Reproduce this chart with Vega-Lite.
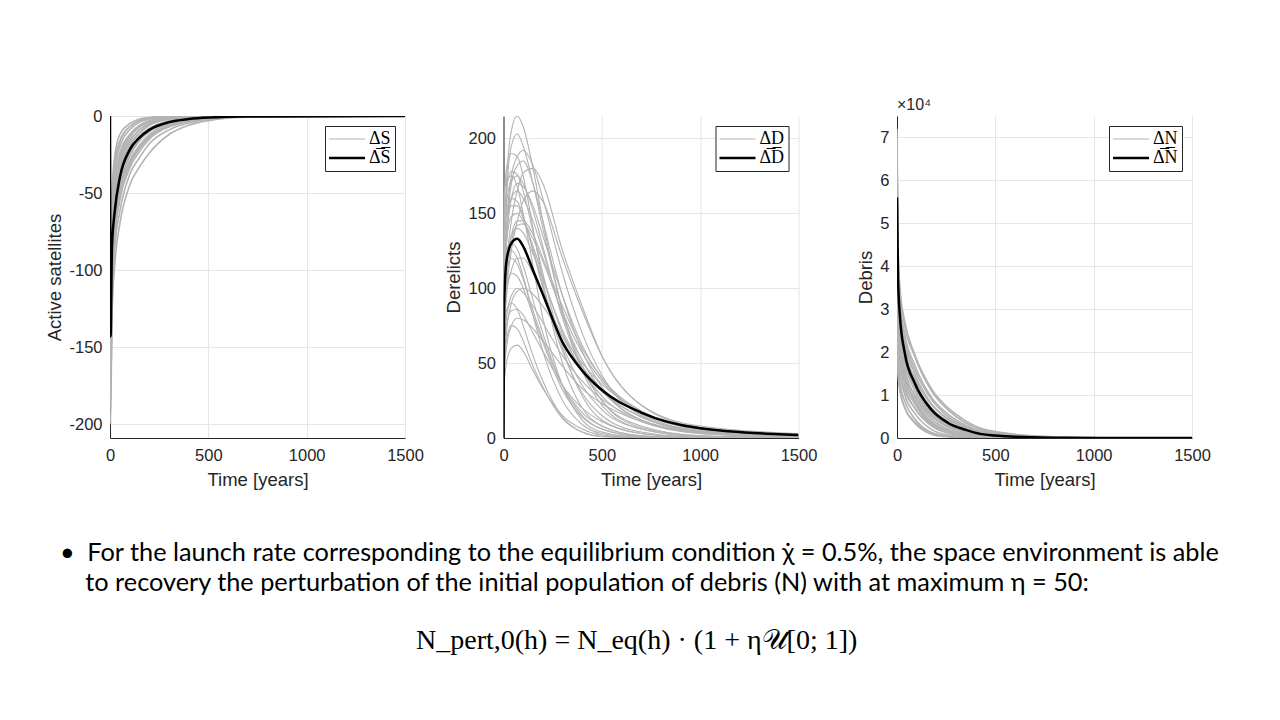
{
"$schema":"https://vega.github.io/schema/vega-lite/v6.json",
"background":"white",
"padding":{"left":45,"top":97,"right":5,"bottom":5},
"title":{"text":"N_pert,0(h) = N_eq(h) · (1 + η𝒰[0; 1])","orient":"bottom","anchor":"middle","font":"Liberation Serif","fontSize":28,"fontWeight":"normal","color":"#000000","offset":31,"dx":4},
"vconcat":[
{"hconcat":[
{"width":295,"height":322,
 "layer":[
  {"data":{"name":"s"},"mark":{"type":"line","strokeWidth":1.6,"interpolate":"monotone","clip":true},
   "encoding":{
    "x":{"field":"t","type":"quantitative","scale":{"domain":[0,1500],"nice":false},"axis":{"values":[0,500,1000,1500],"format":"d","title":"Time [years]"}},
    "y":{"field":"v","type":"quantitative","scale":{"domain":[-209,0],"nice":false},"axis":{"values":[-200,-150,-100,-50,0],"labelExpr":"'' + datum.value","title":"Active satellites"}},
    "detail":{"field":"r","type":"nominal"},
    "color":{"datum":"a","type":"nominal","scale":{"domain":["a","m"],"range":["#b3b3b3","#000000"]},"legend":{"title":null,"labelExpr":"datum.value == 'a' ? '\u0394S' : '\u0394\u0305S\u0305'","encode":{"symbols":{"update":{"strokeWidth":{"signal":"datum.value == 'm' ? 2.5 : 1"}}}}}}}},
  {"data":{"name":"sm"},"mark":{"type":"line","strokeWidth":2.5,"interpolate":"monotone","clip":true},
   "encoding":{"x":{"field":"t","type":"quantitative"},"y":{"field":"v","type":"quantitative"},"color":{"datum":"m","type":"nominal"}}}
 ]},
{"width":295,"height":322,
 "layer":[
  {"data":{"name":"d"},"mark":{"type":"line","strokeWidth":1.1,"interpolate":"monotone","clip":true},
   "encoding":{
    "x":{"field":"t","type":"quantitative","scale":{"domain":[0,1500],"nice":false},"axis":{"values":[0,500,1000,1500],"format":"d","title":"Time [years]"}},
    "y":{"field":"v","type":"quantitative","scale":{"domain":[0,215],"nice":false},"axis":{"values":[0,50,100,150,200],"title":"Derelicts"}},
    "detail":{"field":"r","type":"nominal"},
    "color":{"datum":"a","type":"nominal","scale":{"domain":["a","m"],"range":["#b3b3b3","#000000"]},"legend":{"title":null,"labelExpr":"datum.value == 'a' ? '\u0394D' : '\u0394\u0305D\u0305'","encode":{"symbols":{"update":{"strokeWidth":{"signal":"datum.value == 'm' ? 2.5 : 1"}}}}}}}},
  {"data":{"name":"dm"},"mark":{"type":"line","strokeWidth":2.5,"interpolate":"monotone","clip":true},
   "encoding":{"x":{"field":"t","type":"quantitative"},"y":{"field":"v","type":"quantitative"},"color":{"datum":"m","type":"nominal"}}}
 ]},
{"width":295,"height":322,
 "title":{"text":"×10⁴","anchor":"start","frame":"group","fontSize":16,"fontWeight":"normal","font":"Liberation Sans","color":"#262626","offset":3},
 "layer":[
  {"data":{"name":"n"},"mark":{"type":"line","strokeWidth":1.6,"interpolate":"monotone","clip":true},
   "encoding":{
    "x":{"field":"t","type":"quantitative","scale":{"domain":[0,1500],"nice":false},"axis":{"values":[0,500,1000,1500],"format":"d","title":"Time [years]"}},
    "y":{"field":"v","type":"quantitative","scale":{"domain":[0,75000],"nice":false},"axis":{"values":[0,10000,20000,30000,40000,50000,60000,70000],"labelExpr":"datum.value / 10000","title":"Debris"}},
    "detail":{"field":"r","type":"nominal"},
    "color":{"datum":"a","type":"nominal","scale":{"domain":["a","m"],"range":["#b3b3b3","#000000"]},"legend":{"title":null,"labelExpr":"datum.value == 'a' ? '\u0394N' : '\u0394\u0305N\u0305'","encode":{"symbols":{"update":{"strokeWidth":{"signal":"datum.value == 'm' ? 2.5 : 1"}}}}}}}},
  {"data":{"name":"nm"},"mark":{"type":"line","strokeWidth":2.5,"interpolate":"monotone","clip":true},
   "encoding":{"x":{"field":"t","type":"quantitative"},"y":{"field":"v","type":"quantitative"},"color":{"datum":"m","type":"nominal"}}}
 ]}
],
"spacing":98.5,
"bounds":"flush",
"resolve":{"scale":{"color":"independent"},"legend":{"color":"independent"}},
"title":{"text":["•\u2002For the launch rate corresponding to the equilibrium condition χ̇ = 0.5%, the space environment is able","\u2060\u2002\u2002to recovery the perturbation of the initial population of debris (N) with at maximum η = 50:"],"orient":"bottom","anchor":"start","font":"Lato","fontSize":25.3,"fontWeight":"normal","color":"#000000","lineHeight":30,"offset":52,"dx":14}
}],
"datasets":{
"s":[
{"r":1,"t":0,"v":0},{"r":1,"t":3,"v":-100},{"r":1,"t":10,"v":-50},{"r":1,"t":25,"v":-25},{"r":1,"t":50,"v":-12},{"r":1,"t":100,"v":-5},{"r":1,"t":150,"v":-2},{"r":1,"t":200,"v":-1},{"r":1,"t":300,"v":0},{"r":1,"t":400,"v":0},{"r":1,"t":500,"v":0},{"r":1,"t":700,"v":0},{"r":1,"t":1500,"v":0},
{"r":2,"t":0,"v":0},{"r":2,"t":3,"v":-120},{"r":2,"t":10,"v":-65},{"r":2,"t":25,"v":-35},{"r":2,"t":50,"v":-20},{"r":2,"t":100,"v":-9},{"r":2,"t":150,"v":-4},{"r":2,"t":200,"v":-2},{"r":2,"t":300,"v":-0.5},{"r":2,"t":400,"v":0},{"r":2,"t":500,"v":0},{"r":2,"t":700,"v":0},{"r":2,"t":1500,"v":0},
{"r":3,"t":0,"v":0},{"r":3,"t":3,"v":-130},{"r":3,"t":10,"v":-75},{"r":3,"t":25,"v":-45},{"r":3,"t":50,"v":-28},{"r":3,"t":100,"v":-14},{"r":3,"t":150,"v":-7},{"r":3,"t":200,"v":-4},{"r":3,"t":300,"v":-1},{"r":3,"t":400,"v":-0.3},{"r":3,"t":500,"v":0},{"r":3,"t":700,"v":0},{"r":3,"t":1500,"v":0},
{"r":4,"t":0,"v":0},{"r":4,"t":3,"v":-140},{"r":4,"t":10,"v":-85},{"r":4,"t":25,"v":-55},{"r":4,"t":50,"v":-36},{"r":4,"t":100,"v":-19},{"r":4,"t":150,"v":-11},{"r":4,"t":200,"v":-6},{"r":4,"t":300,"v":-2},{"r":4,"t":400,"v":-0.7},{"r":4,"t":500,"v":-0.2},{"r":4,"t":700,"v":0},{"r":4,"t":1500,"v":0},
{"r":5,"t":0,"v":0},{"r":5,"t":3,"v":-150},{"r":5,"t":10,"v":-95},{"r":5,"t":25,"v":-62},{"r":5,"t":50,"v":-42},{"r":5,"t":100,"v":-24},{"r":5,"t":150,"v":-15},{"r":5,"t":200,"v":-9},{"r":5,"t":300,"v":-4},{"r":5,"t":400,"v":-1.5},{"r":5,"t":500,"v":-0.6},{"r":5,"t":700,"v":0},{"r":5,"t":1500,"v":0},
{"r":6,"t":0,"v":0},{"r":6,"t":3,"v":-160},{"r":6,"t":10,"v":-105},{"r":6,"t":25,"v":-70},{"r":6,"t":50,"v":-48},{"r":6,"t":100,"v":-29},{"r":6,"t":150,"v":-19},{"r":6,"t":200,"v":-12},{"r":6,"t":300,"v":-5},{"r":6,"t":400,"v":-2.5},{"r":6,"t":500,"v":-1},{"r":6,"t":700,"v":-0.2},{"r":6,"t":1500,"v":0},
{"r":7,"t":0,"v":0},{"r":7,"t":3,"v":-175},{"r":7,"t":10,"v":-115},{"r":7,"t":25,"v":-78},{"r":7,"t":50,"v":-55},{"r":7,"t":100,"v":-34},{"r":7,"t":150,"v":-23},{"r":7,"t":200,"v":-15},{"r":7,"t":300,"v":-7},{"r":7,"t":400,"v":-3.5},{"r":7,"t":500,"v":-1.6},{"r":7,"t":700,"v":-0.3},{"r":7,"t":1500,"v":0},
{"r":8,"t":0,"v":0},{"r":8,"t":3,"v":-200},{"r":8,"t":10,"v":-125},{"r":8,"t":25,"v":-85},{"r":8,"t":50,"v":-62},{"r":8,"t":100,"v":-38},{"r":8,"t":150,"v":-27},{"r":8,"t":200,"v":-18},{"r":8,"t":300,"v":-9},{"r":8,"t":400,"v":-4.5},{"r":8,"t":500,"v":-2},{"r":8,"t":700,"v":-0.5},{"r":8,"t":1500,"v":0},
{"r":9,"t":0,"v":0},{"r":9,"t":3,"v":-110},{"r":9,"t":10,"v":-80},{"r":9,"t":25,"v":-60},{"r":9,"t":50,"v":-45},{"r":9,"t":100,"v":-30},{"r":9,"t":150,"v":-20},{"r":9,"t":200,"v":-13},{"r":9,"t":300,"v":-6},{"r":9,"t":400,"v":-3},{"r":9,"t":500,"v":-1.3},{"r":9,"t":700,"v":-0.3},{"r":9,"t":1500,"v":0},
{"r":10,"t":0,"v":0},{"r":10,"t":3,"v":-185},{"r":10,"t":10,"v":-100},{"r":10,"t":25,"v":-50},{"r":10,"t":50,"v":-30},{"r":10,"t":100,"v":-16},{"r":10,"t":150,"v":-9},{"r":10,"t":200,"v":-5},{"r":10,"t":300,"v":-1.5},{"r":10,"t":400,"v":-0.5},{"r":10,"t":500,"v":0},{"r":10,"t":700,"v":0},{"r":10,"t":1500,"v":0},
{"r":11,"t":0,"v":0},{"r":11,"t":3,"v":-145},{"r":11,"t":10,"v":-90},{"r":11,"t":25,"v":-58},{"r":11,"t":50,"v":-38},{"r":11,"t":100,"v":-22},{"r":11,"t":150,"v":-13},{"r":11,"t":200,"v":-8},{"r":11,"t":300,"v":-3},{"r":11,"t":400,"v":-1},{"r":11,"t":500,"v":-0.3},{"r":11,"t":700,"v":0},{"r":11,"t":1500,"v":0},
{"r":12,"t":0,"v":0},{"r":12,"t":3,"v":-135},{"r":12,"t":10,"v":-70},{"r":12,"t":25,"v":-40},{"r":12,"t":50,"v":-24},{"r":12,"t":100,"v":-12},{"r":12,"t":150,"v":-6},{"r":12,"t":200,"v":-3},{"r":12,"t":300,"v":-0.8},{"r":12,"t":400,"v":-0.2},{"r":12,"t":500,"v":0},{"r":12,"t":700,"v":0},{"r":12,"t":1500,"v":0},
{"r":13,"t":0,"v":0},{"r":13,"t":3,"v":-165},{"r":13,"t":10,"v":-110},{"r":13,"t":25,"v":-66},{"r":13,"t":50,"v":-40},{"r":13,"t":100,"v":-20},{"r":13,"t":150,"v":-11},{"r":13,"t":200,"v":-6},{"r":13,"t":300,"v":-2},{"r":13,"t":400,"v":-0.6},{"r":13,"t":500,"v":0},{"r":13,"t":700,"v":0},{"r":13,"t":1500,"v":0},
{"r":14,"t":0,"v":0},{"r":14,"t":3,"v":-105},{"r":14,"t":10,"v":-60},{"r":14,"t":25,"v":-32},{"r":14,"t":50,"v":-17},{"r":14,"t":100,"v":-7},{"r":14,"t":150,"v":-3},{"r":14,"t":200,"v":-1.5},{"r":14,"t":300,"v":-0.2},{"r":14,"t":400,"v":0},{"r":14,"t":500,"v":0},{"r":14,"t":700,"v":0},{"r":14,"t":1500,"v":0},
{"r":15,"t":0,"v":0},{"r":15,"t":3,"v":-125},{"r":15,"t":10,"v":-72},{"r":15,"t":25,"v":-42},{"r":15,"t":50,"v":-26},{"r":15,"t":100,"v":-13},{"r":15,"t":150,"v":-7},{"r":15,"t":200,"v":-4},{"r":15,"t":300,"v":-1},{"r":15,"t":400,"v":-0.3},{"r":15,"t":500,"v":0},{"r":15,"t":700,"v":0},{"r":15,"t":1500,"v":0},
{"r":16,"t":0,"v":0},{"r":16,"t":3,"v":-155},{"r":16,"t":10,"v":-100},{"r":16,"t":25,"v":-66},{"r":16,"t":50,"v":-45},{"r":16,"t":100,"v":-26},{"r":16,"t":150,"v":-16},{"r":16,"t":200,"v":-10},{"r":16,"t":300,"v":-4},{"r":16,"t":400,"v":-1.8},{"r":16,"t":500,"v":-0.8},{"r":16,"t":700,"v":-0.1},{"r":16,"t":1500,"v":0},
{"r":17,"t":0,"v":0},{"r":17,"t":3,"v":-170},{"r":17,"t":10,"v":-112},{"r":17,"t":25,"v":-75},{"r":17,"t":50,"v":-52},{"r":17,"t":100,"v":-32},{"r":17,"t":150,"v":-21},{"r":17,"t":200,"v":-14},{"r":17,"t":300,"v":-6},{"r":17,"t":400,"v":-3},{"r":17,"t":500,"v":-1.3},{"r":17,"t":700,"v":-0.2},{"r":17,"t":1500,"v":0},
{"r":18,"t":0,"v":0},{"r":18,"t":3,"v":-180},{"r":18,"t":10,"v":-130},{"r":18,"t":25,"v":-95},{"r":18,"t":50,"v":-70},{"r":18,"t":100,"v":-45},{"r":18,"t":150,"v":-33},{"r":18,"t":200,"v":-24},{"r":18,"t":300,"v":-12},{"r":18,"t":400,"v":-6},{"r":18,"t":500,"v":-3},{"r":18,"t":700,"v":-0.8},{"r":18,"t":1500,"v":0},
{"r":19,"t":0,"v":0},{"r":19,"t":3,"v":-115},{"r":19,"t":10,"v":-58},{"r":19,"t":25,"v":-30},{"r":19,"t":50,"v":-16},{"r":19,"t":100,"v":-7},{"r":19,"t":150,"v":-3},{"r":19,"t":200,"v":-1.5},{"r":19,"t":300,"v":-0.3},{"r":19,"t":400,"v":0},{"r":19,"t":500,"v":0},{"r":19,"t":700,"v":0},{"r":19,"t":1500,"v":0},
{"r":20,"t":0,"v":0},{"r":20,"t":3,"v":-148},{"r":20,"t":10,"v":-92},{"r":20,"t":25,"v":-52},{"r":20,"t":50,"v":-33},{"r":20,"t":100,"v":-17},{"r":20,"t":150,"v":-9},{"r":20,"t":200,"v":-5},{"r":20,"t":300,"v":-1.6},{"r":20,"t":400,"v":-0.5},{"r":20,"t":500,"v":-0.1},{"r":20,"t":700,"v":0},{"r":20,"t":1500,"v":0},
{"r":21,"t":0,"v":0},{"r":21,"t":3,"v":-190},{"r":21,"t":10,"v":-120},{"r":21,"t":25,"v":-72},{"r":21,"t":50,"v":-46},{"r":21,"t":100,"v":-26},{"r":21,"t":150,"v":-16},{"r":21,"t":200,"v":-10},{"r":21,"t":300,"v":-4},{"r":21,"t":400,"v":-1.8},{"r":21,"t":500,"v":-0.7},{"r":21,"t":700,"v":-0.1},{"r":21,"t":1500,"v":0},
{"r":22,"t":0,"v":0},{"r":22,"t":3,"v":-128},{"r":22,"t":10,"v":-88},{"r":22,"t":25,"v":-64},{"r":22,"t":50,"v":-47},{"r":22,"t":100,"v":-30},{"r":22,"t":150,"v":-21},{"r":22,"t":200,"v":-14},{"r":22,"t":300,"v":-7},{"r":22,"t":400,"v":-3.5},{"r":22,"t":500,"v":-1.8},{"r":22,"t":700,"v":-0.4},{"r":22,"t":1500,"v":0}
],
"sm":[
{"t":0,"v":0},{"t":3,"v":-143},{"t":10,"v":-85},{"t":25,"v":-61},{"t":50,"v":-40},{"t":100,"v":-22},{"t":150,"v":-14},{"t":200,"v":-9},{"t":300,"v":-4},{"t":400,"v":-2},{"t":500,"v":-1},{"t":700,"v":-0.3},{"t":1500,"v":0}
],
"d":[
{"r":1,"t":0,"v":0},{"r":1,"t":3,"v":120},{"r":1,"t":15,"v":170},{"r":1,"t":40,"v":205},{"r":1,"t":70,"v":215},{"r":1,"t":100,"v":208},{"r":1,"t":150,"v":180},{"r":1,"t":200,"v":145},{"r":1,"t":300,"v":85},{"r":1,"t":400,"v":45},{"r":1,"t":500,"v":22},{"r":1,"t":700,"v":6},{"r":1,"t":1000,"v":1},{"r":1,"t":1500,"v":0.2},
{"r":2,"t":0,"v":0},{"r":2,"t":3,"v":110},{"r":2,"t":15,"v":160},{"r":2,"t":40,"v":195},{"r":2,"t":70,"v":203},{"r":2,"t":100,"v":195},{"r":2,"t":150,"v":170},{"r":2,"t":200,"v":140},{"r":2,"t":300,"v":85},{"r":2,"t":400,"v":48},{"r":2,"t":500,"v":25},{"r":2,"t":700,"v":7},{"r":2,"t":1000,"v":1.5},{"r":2,"t":1500,"v":0.3},
{"r":3,"t":0,"v":0},{"r":3,"t":3,"v":150},{"r":3,"t":15,"v":180},{"r":3,"t":40,"v":190},{"r":3,"t":70,"v":188},{"r":3,"t":100,"v":175},{"r":3,"t":150,"v":140},{"r":3,"t":200,"v":105},{"r":3,"t":300,"v":50},{"r":3,"t":400,"v":20},{"r":3,"t":500,"v":8},{"r":3,"t":700,"v":1.5},{"r":3,"t":1000,"v":0.2},{"r":3,"t":1500,"v":0},
{"r":4,"t":0,"v":0},{"r":4,"t":3,"v":90},{"r":4,"t":15,"v":140},{"r":4,"t":40,"v":175},{"r":4,"t":70,"v":188},{"r":4,"t":100,"v":192},{"r":4,"t":150,"v":182},{"r":4,"t":200,"v":160},{"r":4,"t":300,"v":110},{"r":4,"t":400,"v":70},{"r":4,"t":500,"v":42},{"r":4,"t":700,"v":15},{"r":4,"t":1000,"v":4},{"r":4,"t":1500,"v":1},
{"r":5,"t":0,"v":0},{"r":5,"t":3,"v":70},{"r":5,"t":15,"v":110},{"r":5,"t":40,"v":145},{"r":5,"t":70,"v":165},{"r":5,"t":100,"v":177},{"r":5,"t":150,"v":180},{"r":5,"t":200,"v":170},{"r":5,"t":300,"v":125},{"r":5,"t":400,"v":88},{"r":5,"t":500,"v":55},{"r":5,"t":700,"v":22},{"r":5,"t":1000,"v":7},{"r":5,"t":1500,"v":2.5},
{"r":6,"t":0,"v":0},{"r":6,"t":3,"v":160},{"r":6,"t":15,"v":172},{"r":6,"t":40,"v":175},{"r":6,"t":70,"v":168},{"r":6,"t":100,"v":150},{"r":6,"t":150,"v":115},{"r":6,"t":200,"v":80},{"r":6,"t":300,"v":35},{"r":6,"t":400,"v":12},{"r":6,"t":500,"v":4},{"r":6,"t":700,"v":0.5},{"r":6,"t":1000,"v":0},{"r":6,"t":1500,"v":0},
{"r":7,"t":0,"v":0},{"r":7,"t":3,"v":60},{"r":7,"t":15,"v":95},{"r":7,"t":40,"v":125},{"r":7,"t":70,"v":145},{"r":7,"t":100,"v":158},{"r":7,"t":150,"v":165},{"r":7,"t":200,"v":158},{"r":7,"t":300,"v":120},{"r":7,"t":400,"v":85},{"r":7,"t":500,"v":55},{"r":7,"t":700,"v":22},{"r":7,"t":1000,"v":8},{"r":7,"t":1500,"v":3},
{"r":8,"t":0,"v":0},{"r":8,"t":3,"v":100},{"r":8,"t":15,"v":130},{"r":8,"t":40,"v":148},{"r":8,"t":70,"v":150},{"r":8,"t":100,"v":145},{"r":8,"t":150,"v":128},{"r":8,"t":200,"v":108},{"r":8,"t":300,"v":70},{"r":8,"t":400,"v":45},{"r":8,"t":500,"v":28},{"r":8,"t":700,"v":11},{"r":8,"t":1000,"v":3},{"r":8,"t":1500,"v":0.5},
{"r":9,"t":0,"v":0},{"r":9,"t":3,"v":90},{"r":9,"t":15,"v":120},{"r":9,"t":40,"v":135},{"r":9,"t":70,"v":140},{"r":9,"t":100,"v":137},{"r":9,"t":150,"v":123},{"r":9,"t":200,"v":106},{"r":9,"t":300,"v":72},{"r":9,"t":400,"v":48},{"r":9,"t":500,"v":32},{"r":9,"t":700,"v":14},{"r":9,"t":1000,"v":4.5},{"r":9,"t":1500,"v":1.2},
{"r":10,"t":0,"v":0},{"r":10,"t":3,"v":110},{"r":10,"t":15,"v":125},{"r":10,"t":40,"v":130},{"r":10,"t":70,"v":126},{"r":10,"t":100,"v":115},{"r":10,"t":150,"v":92},{"r":10,"t":200,"v":70},{"r":10,"t":300,"v":35},{"r":10,"t":400,"v":15},{"r":10,"t":500,"v":6},{"r":10,"t":700,"v":1},{"r":10,"t":1000,"v":0},{"r":10,"t":1500,"v":0},
{"r":11,"t":0,"v":0},{"r":11,"t":3,"v":70},{"r":11,"t":15,"v":95},{"r":11,"t":40,"v":112},{"r":11,"t":70,"v":120},{"r":11,"t":100,"v":120},{"r":11,"t":150,"v":110},{"r":11,"t":200,"v":96},{"r":11,"t":300,"v":68},{"r":11,"t":400,"v":46},{"r":11,"t":500,"v":31},{"r":11,"t":700,"v":14},{"r":11,"t":1000,"v":5},{"r":11,"t":1500,"v":1.5},
{"r":12,"t":0,"v":0},{"r":12,"t":3,"v":80},{"r":12,"t":15,"v":100},{"r":12,"t":40,"v":110},{"r":12,"t":70,"v":108},{"r":12,"t":100,"v":100},{"r":12,"t":150,"v":82},{"r":12,"t":200,"v":64},{"r":12,"t":300,"v":32},{"r":12,"t":400,"v":14},{"r":12,"t":500,"v":6},{"r":12,"t":700,"v":1},{"r":12,"t":1000,"v":0},{"r":12,"t":1500,"v":0},
{"r":13,"t":0,"v":0},{"r":13,"t":3,"v":60},{"r":13,"t":15,"v":80},{"r":13,"t":40,"v":95},{"r":13,"t":70,"v":100},{"r":13,"t":100,"v":97},{"r":13,"t":150,"v":88},{"r":13,"t":200,"v":77},{"r":13,"t":300,"v":55},{"r":13,"t":400,"v":38},{"r":13,"t":500,"v":26},{"r":13,"t":700,"v":12},{"r":13,"t":1000,"v":4},{"r":13,"t":1500,"v":1.2},
{"r":14,"t":0,"v":0},{"r":14,"t":3,"v":70},{"r":14,"t":15,"v":85},{"r":14,"t":40,"v":90},{"r":14,"t":70,"v":86},{"r":14,"t":100,"v":75},{"r":14,"t":150,"v":55},{"r":14,"t":200,"v":38},{"r":14,"t":300,"v":14},{"r":14,"t":400,"v":4},{"r":14,"t":500,"v":1},{"r":14,"t":700,"v":0},{"r":14,"t":1000,"v":0},{"r":14,"t":1500,"v":0},
{"r":15,"t":0,"v":0},{"r":15,"t":3,"v":40},{"r":15,"t":15,"v":60},{"r":15,"t":40,"v":75},{"r":15,"t":70,"v":80},{"r":15,"t":100,"v":79},{"r":15,"t":150,"v":73},{"r":15,"t":200,"v":65},{"r":15,"t":300,"v":48},{"r":15,"t":400,"v":33},{"r":15,"t":500,"v":23},{"r":15,"t":700,"v":11},{"r":15,"t":1000,"v":3.5},{"r":15,"t":1500,"v":1},
{"r":16,"t":0,"v":0},{"r":16,"t":3,"v":50},{"r":16,"t":15,"v":65},{"r":16,"t":40,"v":75},{"r":16,"t":70,"v":73},{"r":16,"t":100,"v":65},{"r":16,"t":150,"v":48},{"r":16,"t":200,"v":34},{"r":16,"t":300,"v":13},{"r":16,"t":400,"v":4},{"r":16,"t":500,"v":1},{"r":16,"t":700,"v":0},{"r":16,"t":1000,"v":0},{"r":16,"t":1500,"v":0},
{"r":17,"t":0,"v":0},{"r":17,"t":3,"v":35},{"r":17,"t":15,"v":50},{"r":17,"t":40,"v":60},{"r":17,"t":70,"v":62},{"r":17,"t":100,"v":58},{"r":17,"t":150,"v":45},{"r":17,"t":200,"v":33},{"r":17,"t":300,"v":15},{"r":17,"t":400,"v":6},{"r":17,"t":500,"v":2},{"r":17,"t":700,"v":0.3},{"r":17,"t":1000,"v":0},{"r":17,"t":1500,"v":0},
{"r":18,"t":0,"v":0},{"r":18,"t":3,"v":130},{"r":18,"t":15,"v":150},{"r":18,"t":40,"v":160},{"r":18,"t":70,"v":158},{"r":18,"t":100,"v":148},{"r":18,"t":150,"v":125},{"r":18,"t":200,"v":100},{"r":18,"t":300,"v":58},{"r":18,"t":400,"v":30},{"r":18,"t":500,"v":15},{"r":18,"t":700,"v":4},{"r":18,"t":1000,"v":0.5},{"r":18,"t":1500,"v":0},
{"r":19,"t":0,"v":0},{"r":19,"t":3,"v":80},{"r":19,"t":15,"v":130},{"r":19,"t":40,"v":170},{"r":19,"t":70,"v":182},{"r":19,"t":100,"v":185},{"r":19,"t":150,"v":170},{"r":19,"t":200,"v":145},{"r":19,"t":300,"v":95},{"r":19,"t":400,"v":58},{"r":19,"t":500,"v":34},{"r":19,"t":700,"v":12},{"r":19,"t":1000,"v":3},{"r":19,"t":1500,"v":0.6},
{"r":20,"t":0,"v":0},{"r":20,"t":3,"v":75},{"r":20,"t":15,"v":110},{"r":20,"t":40,"v":135},{"r":20,"t":70,"v":145},{"r":20,"t":100,"v":145},{"r":20,"t":150,"v":136},{"r":20,"t":200,"v":120},{"r":20,"t":300,"v":88},{"r":20,"t":400,"v":60},{"r":20,"t":500,"v":40},{"r":20,"t":700,"v":18},{"r":20,"t":1000,"v":6},{"r":20,"t":1500,"v":2},
{"r":21,"t":0,"v":0},{"r":21,"t":3,"v":85},{"r":21,"t":15,"v":130},{"r":21,"t":40,"v":160},{"r":21,"t":70,"v":170},{"r":21,"t":100,"v":168},{"r":21,"t":150,"v":155},{"r":21,"t":200,"v":135},{"r":21,"t":300,"v":95},{"r":21,"t":400,"v":62},{"r":21,"t":500,"v":40},{"r":21,"t":700,"v":17},{"r":21,"t":1000,"v":6},{"r":21,"t":1500,"v":2},
{"r":22,"t":0,"v":0},{"r":22,"t":3,"v":100},{"r":22,"t":15,"v":118},{"r":22,"t":40,"v":125},{"r":22,"t":70,"v":120},{"r":22,"t":100,"v":108},{"r":22,"t":150,"v":82},{"r":22,"t":200,"v":58},{"r":22,"t":300,"v":25},{"r":22,"t":400,"v":9},{"r":22,"t":500,"v":3},{"r":22,"t":700,"v":0.5},{"r":22,"t":1000,"v":0},{"r":22,"t":1500,"v":0},
{"r":23,"t":0,"v":0},{"r":23,"t":3,"v":140},{"r":23,"t":15,"v":165},{"r":23,"t":40,"v":178},{"r":23,"t":70,"v":176},{"r":23,"t":100,"v":165},{"r":23,"t":150,"v":138},{"r":23,"t":200,"v":110},{"r":23,"t":300,"v":60},{"r":23,"t":400,"v":28},{"r":23,"t":500,"v":12},{"r":23,"t":700,"v":3},{"r":23,"t":1000,"v":0.4},{"r":23,"t":1500,"v":0},
{"r":24,"t":0,"v":0},{"r":24,"t":3,"v":95},{"r":24,"t":15,"v":135},{"r":24,"t":40,"v":160},{"r":24,"t":70,"v":165},{"r":24,"t":100,"v":160},{"r":24,"t":150,"v":145},{"r":24,"t":200,"v":125},{"r":24,"t":300,"v":82},{"r":24,"t":400,"v":52},{"r":24,"t":500,"v":32},{"r":24,"t":700,"v":12},{"r":24,"t":1000,"v":3.5},{"r":24,"t":1500,"v":0.8},
{"r":25,"t":0,"v":0},{"r":25,"t":3,"v":125},{"r":25,"t":15,"v":155},{"r":25,"t":40,"v":172},{"r":25,"t":70,"v":175},{"r":25,"t":100,"v":170},{"r":25,"t":150,"v":152},{"r":25,"t":200,"v":128},{"r":25,"t":300,"v":80},{"r":25,"t":400,"v":46},{"r":25,"t":500,"v":25},{"r":25,"t":700,"v":8},{"r":25,"t":1000,"v":1.5},{"r":25,"t":1500,"v":0.2},
{"r":26,"t":0,"v":0},{"r":26,"t":3,"v":65},{"r":26,"t":15,"v":100},{"r":26,"t":40,"v":130},{"r":26,"t":70,"v":142},{"r":26,"t":100,"v":143},{"r":26,"t":150,"v":133},{"r":26,"t":200,"v":118},{"r":26,"t":300,"v":84},{"r":26,"t":400,"v":57},{"r":26,"t":500,"v":38},{"r":26,"t":700,"v":16},{"r":26,"t":1000,"v":5},{"r":26,"t":1500,"v":1.2},
{"r":27,"t":0,"v":0},{"r":27,"t":3,"v":110},{"r":27,"t":15,"v":140},{"r":27,"t":40,"v":155},{"r":27,"t":70,"v":155},{"r":27,"t":100,"v":147},{"r":27,"t":150,"v":126},{"r":27,"t":200,"v":102},{"r":27,"t":300,"v":62},{"r":27,"t":400,"v":35},{"r":27,"t":500,"v":19},{"r":27,"t":700,"v":6},{"r":27,"t":1000,"v":1},{"r":27,"t":1500,"v":0.1},
{"r":28,"t":0,"v":0},{"r":28,"t":3,"v":45},{"r":28,"t":15,"v":70},{"r":28,"t":40,"v":90},{"r":28,"t":70,"v":98},{"r":28,"t":100,"v":100},{"r":28,"t":150,"v":96},{"r":28,"t":200,"v":88},{"r":28,"t":300,"v":68},{"r":28,"t":400,"v":50},{"r":28,"t":500,"v":36},{"r":28,"t":700,"v":18},{"r":28,"t":1000,"v":6.5},{"r":28,"t":1500,"v":2},
{"r":29,"t":0,"v":0},{"r":29,"t":3,"v":90},{"r":29,"t":15,"v":112},{"r":29,"t":40,"v":120},{"r":29,"t":70,"v":116},{"r":29,"t":100,"v":106},{"r":29,"t":150,"v":85},{"r":29,"t":200,"v":66},{"r":29,"t":300,"v":35},{"r":29,"t":400,"v":17},{"r":29,"t":500,"v":8},{"r":29,"t":700,"v":1.5},{"r":29,"t":1000,"v":0.2},{"r":29,"t":1500,"v":0},
{"r":30,"t":0,"v":0},{"r":30,"t":3,"v":55},{"r":30,"t":15,"v":75},{"r":30,"t":40,"v":85},{"r":30,"t":70,"v":86},{"r":30,"t":100,"v":82},{"r":30,"t":150,"v":70},{"r":30,"t":200,"v":58},{"r":30,"t":300,"v":35},{"r":30,"t":400,"v":20},{"r":30,"t":500,"v":11},{"r":30,"t":700,"v":3},{"r":30,"t":1000,"v":0.5},{"r":30,"t":1500,"v":0}
],
"dm":[
{"t":0,"v":0},{"t":3,"v":88},{"t":15,"v":118},{"t":40,"v":130},{"t":70,"v":133},{"t":100,"v":128},{"t":150,"v":112},{"t":200,"v":96},{"t":300,"v":64},{"t":400,"v":45},{"t":500,"v":32},{"t":700,"v":17},{"t":1000,"v":6.5},{"t":1500,"v":2}
],
"n":[
{"r":1,"t":0,"v":72000},{"r":1,"t":5,"v":45000},{"r":1,"t":15,"v":34000},{"r":1,"t":40,"v":26000},{"r":1,"t":90,"v":19000},{"r":1,"t":175,"v":11000},{"r":1,"t":260,"v":6500},{"r":1,"t":350,"v":3500},{"r":1,"t":430,"v":2000},{"r":1,"t":500,"v":1400},{"r":1,"t":600,"v":800},{"r":1,"t":800,"v":250},{"r":1,"t":1000,"v":80},{"r":1,"t":1500,"v":5},
{"r":2,"t":0,"v":68000},{"r":2,"t":5,"v":42000},{"r":2,"t":15,"v":32000},{"r":2,"t":40,"v":24000},{"r":2,"t":90,"v":17000},{"r":2,"t":175,"v":9500},{"r":2,"t":260,"v":5500},{"r":2,"t":350,"v":3000},{"r":2,"t":430,"v":1600},{"r":2,"t":500,"v":1100},{"r":2,"t":600,"v":600},{"r":2,"t":800,"v":180},{"r":2,"t":1000,"v":50},{"r":2,"t":1500,"v":3},
{"r":3,"t":0,"v":64000},{"r":3,"t":5,"v":40000},{"r":3,"t":15,"v":30000},{"r":3,"t":40,"v":22000},{"r":3,"t":90,"v":15000},{"r":3,"t":175,"v":8000},{"r":3,"t":260,"v":4500},{"r":3,"t":350,"v":2400},{"r":3,"t":430,"v":1300},{"r":3,"t":500,"v":850},{"r":3,"t":600,"v":450},{"r":3,"t":800,"v":130},{"r":3,"t":1000,"v":40},{"r":3,"t":1500,"v":2},
{"r":4,"t":0,"v":60000},{"r":4,"t":5,"v":38000},{"r":4,"t":15,"v":29000},{"r":4,"t":40,"v":21000},{"r":4,"t":90,"v":13500},{"r":4,"t":175,"v":7000},{"r":4,"t":260,"v":3800},{"r":4,"t":350,"v":2000},{"r":4,"t":430,"v":1000},{"r":4,"t":500,"v":650},{"r":4,"t":600,"v":330},{"r":4,"t":800,"v":90},{"r":4,"t":1000,"v":25},{"r":4,"t":1500,"v":1},
{"r":5,"t":0,"v":56000},{"r":5,"t":5,"v":36000},{"r":5,"t":15,"v":27000},{"r":5,"t":40,"v":19000},{"r":5,"t":90,"v":12500},{"r":5,"t":175,"v":6200},{"r":5,"t":260,"v":3200},{"r":5,"t":350,"v":1600},{"r":5,"t":430,"v":800},{"r":5,"t":500,"v":500},{"r":5,"t":600,"v":250},{"r":5,"t":800,"v":60},{"r":5,"t":1000,"v":15},{"r":5,"t":1500,"v":1},
{"r":6,"t":0,"v":52000},{"r":6,"t":5,"v":33000},{"r":6,"t":15,"v":25000},{"r":6,"t":40,"v":17500},{"r":6,"t":90,"v":11000},{"r":6,"t":175,"v":5200},{"r":6,"t":260,"v":2600},{"r":6,"t":350,"v":1300},{"r":6,"t":430,"v":600},{"r":6,"t":500,"v":380},{"r":6,"t":600,"v":180},{"r":6,"t":800,"v":40},{"r":6,"t":1000,"v":10},{"r":6,"t":1500,"v":0},
{"r":7,"t":0,"v":48000},{"r":7,"t":5,"v":30000},{"r":7,"t":15,"v":23000},{"r":7,"t":40,"v":16000},{"r":7,"t":90,"v":9800},{"r":7,"t":175,"v":4400},{"r":7,"t":260,"v":2100},{"r":7,"t":350,"v":1000},{"r":7,"t":430,"v":450},{"r":7,"t":500,"v":280},{"r":7,"t":600,"v":130},{"r":7,"t":800,"v":30},{"r":7,"t":1000,"v":8},{"r":7,"t":1500,"v":0},
{"r":8,"t":0,"v":44000},{"r":8,"t":5,"v":27000},{"r":8,"t":15,"v":20000},{"r":8,"t":40,"v":14000},{"r":8,"t":90,"v":8500},{"r":8,"t":175,"v":3600},{"r":8,"t":260,"v":1600},{"r":8,"t":350,"v":700},{"r":8,"t":430,"v":300},{"r":8,"t":500,"v":180},{"r":8,"t":600,"v":80},{"r":8,"t":800,"v":15},{"r":8,"t":1000,"v":4},{"r":8,"t":1500,"v":0},
{"r":9,"t":0,"v":40000},{"r":9,"t":5,"v":24000},{"r":9,"t":15,"v":18000},{"r":9,"t":40,"v":12000},{"r":9,"t":90,"v":7000},{"r":9,"t":175,"v":2800},{"r":9,"t":260,"v":1100},{"r":9,"t":350,"v":450},{"r":9,"t":430,"v":180},{"r":9,"t":500,"v":100},{"r":9,"t":600,"v":40},{"r":9,"t":800,"v":8},{"r":9,"t":1000,"v":2},{"r":9,"t":1500,"v":0},
{"r":10,"t":0,"v":35000},{"r":10,"t":5,"v":21000},{"r":10,"t":15,"v":15500},{"r":10,"t":40,"v":10000},{"r":10,"t":90,"v":5800},{"r":10,"t":175,"v":2000},{"r":10,"t":260,"v":700},{"r":10,"t":350,"v":250},{"r":10,"t":430,"v":90},{"r":10,"t":500,"v":50},{"r":10,"t":600,"v":20},{"r":10,"t":800,"v":3},{"r":10,"t":1000,"v":1},{"r":10,"t":1500,"v":0},
{"r":11,"t":0,"v":30000},{"r":11,"t":5,"v":18000},{"r":11,"t":15,"v":13000},{"r":11,"t":40,"v":8500},{"r":11,"t":90,"v":4500},{"r":11,"t":175,"v":1300},{"r":11,"t":260,"v":400},{"r":11,"t":350,"v":120},{"r":11,"t":430,"v":40},{"r":11,"t":500,"v":20},{"r":11,"t":600,"v":8},{"r":11,"t":800,"v":1},{"r":11,"t":1000,"v":0},{"r":11,"t":1500,"v":0},
{"r":12,"t":0,"v":25000},{"r":12,"t":5,"v":15000},{"r":12,"t":15,"v":11000},{"r":12,"t":40,"v":7000},{"r":12,"t":90,"v":3500},{"r":12,"t":175,"v":900},{"r":12,"t":260,"v":250},{"r":12,"t":350,"v":80},{"r":12,"t":430,"v":25},{"r":12,"t":500,"v":10},{"r":12,"t":600,"v":3},{"r":12,"t":800,"v":0},{"r":12,"t":1000,"v":0},{"r":12,"t":1500,"v":0},
{"r":13,"t":0,"v":70000},{"r":13,"t":5,"v":38000},{"r":13,"t":15,"v":27000},{"r":13,"t":40,"v":19000},{"r":13,"t":90,"v":12000},{"r":13,"t":175,"v":5500},{"r":13,"t":260,"v":2700},{"r":13,"t":350,"v":1300},{"r":13,"t":430,"v":650},{"r":13,"t":500,"v":400},{"r":13,"t":600,"v":200},{"r":13,"t":800,"v":50},{"r":13,"t":1000,"v":12},{"r":13,"t":1500,"v":0},
{"r":14,"t":0,"v":62000},{"r":14,"t":5,"v":44000},{"r":14,"t":15,"v":35000},{"r":14,"t":40,"v":27000},{"r":14,"t":90,"v":19500},{"r":14,"t":175,"v":11500},{"r":14,"t":260,"v":7000},{"r":14,"t":350,"v":4000},{"r":14,"t":430,"v":2200},{"r":14,"t":500,"v":1500},{"r":14,"t":600,"v":850},{"r":14,"t":800,"v":260},{"r":14,"t":1000,"v":80},{"r":14,"t":1500,"v":4},
{"r":15,"t":0,"v":54000},{"r":15,"t":5,"v":30000},{"r":15,"t":15,"v":21000},{"r":15,"t":40,"v":14500},{"r":15,"t":90,"v":9000},{"r":15,"t":175,"v":3800},{"r":15,"t":260,"v":1700},{"r":15,"t":350,"v":750},{"r":15,"t":430,"v":330},{"r":15,"t":500,"v":190},{"r":15,"t":600,"v":80},{"r":15,"t":800,"v":15},{"r":15,"t":1000,"v":3},{"r":15,"t":1500,"v":0},
{"r":16,"t":0,"v":46000},{"r":16,"t":5,"v":34000},{"r":16,"t":15,"v":27000},{"r":16,"t":40,"v":20000},{"r":16,"t":90,"v":14000},{"r":16,"t":175,"v":7800},{"r":16,"t":260,"v":4300},{"r":16,"t":350,"v":2300},{"r":16,"t":430,"v":1200},{"r":16,"t":500,"v":800},{"r":16,"t":600,"v":420},{"r":16,"t":800,"v":120},{"r":16,"t":1000,"v":35},{"r":16,"t":1500,"v":1},
{"r":17,"t":0,"v":38000},{"r":17,"t":5,"v":27000},{"r":17,"t":15,"v":21000},{"r":17,"t":40,"v":15000},{"r":17,"t":90,"v":10000},{"r":17,"t":175,"v":5000},{"r":17,"t":260,"v":2600},{"r":17,"t":350,"v":1300},{"r":17,"t":430,"v":650},{"r":17,"t":500,"v":420},{"r":17,"t":600,"v":200},{"r":17,"t":800,"v":50},{"r":17,"t":1000,"v":12},{"r":17,"t":1500,"v":0},
{"r":18,"t":0,"v":33000},{"r":18,"t":5,"v":17000},{"r":18,"t":15,"v":11500},{"r":18,"t":40,"v":7000},{"r":18,"t":90,"v":3800},{"r":18,"t":175,"v":1200},{"r":18,"t":260,"v":400},{"r":18,"t":350,"v":130},{"r":18,"t":430,"v":45},{"r":18,"t":500,"v":20},{"r":18,"t":600,"v":8},{"r":18,"t":800,"v":1},{"r":18,"t":1000,"v":0},{"r":18,"t":1500,"v":0},
{"r":19,"t":0,"v":28000},{"r":19,"t":5,"v":20000},{"r":19,"t":15,"v":15500},{"r":19,"t":40,"v":11000},{"r":19,"t":90,"v":7000},{"r":19,"t":175,"v":3200},{"r":19,"t":260,"v":1500},{"r":19,"t":350,"v":650},{"r":19,"t":430,"v":280},{"r":19,"t":500,"v":160},{"r":19,"t":600,"v":70},{"r":19,"t":800,"v":14},{"r":19,"t":1000,"v":3},{"r":19,"t":1500,"v":0},
{"r":20,"t":0,"v":58000},{"r":20,"t":5,"v":40000},{"r":20,"t":15,"v":31000},{"r":20,"t":40,"v":23000},{"r":20,"t":90,"v":16000},{"r":20,"t":175,"v":9000},{"r":20,"t":260,"v":5000},{"r":20,"t":350,"v":2700},{"r":20,"t":430,"v":1450},{"r":20,"t":500,"v":950},{"r":20,"t":600,"v":500},{"r":20,"t":800,"v":150},{"r":20,"t":1000,"v":45},{"r":20,"t":1500,"v":2},
{"r":21,"t":0,"v":50000},{"r":21,"t":5,"v":28000},{"r":21,"t":15,"v":19500},{"r":21,"t":40,"v":13000},{"r":21,"t":90,"v":8000},{"r":21,"t":175,"v":3300},{"r":21,"t":260,"v":1400},{"r":21,"t":350,"v":600},{"r":21,"t":430,"v":250},{"r":21,"t":500,"v":140},{"r":21,"t":600,"v":60},{"r":21,"t":800,"v":10},{"r":21,"t":1000,"v":2},{"r":21,"t":1500,"v":0},
{"r":22,"t":0,"v":42000},{"r":22,"t":5,"v":31000},{"r":22,"t":15,"v":24000},{"r":22,"t":40,"v":17500},{"r":22,"t":90,"v":12000},{"r":22,"t":175,"v":6000},{"r":22,"t":260,"v":3100},{"r":22,"t":350,"v":1600},{"r":22,"t":430,"v":800},{"r":22,"t":500,"v":500},{"r":22,"t":600,"v":250},{"r":22,"t":800,"v":60},{"r":22,"t":1000,"v":15},{"r":22,"t":1500,"v":0}
],
"nm":[
{"t":0,"v":56000},{"t":5,"v":37500},{"t":15,"v":28300},{"t":40,"v":19700},{"t":90,"v":12800},{"t":175,"v":6600},{"t":260,"v":3500},{"t":350,"v":1900},{"t":430,"v":900},{"t":500,"v":600},{"t":600,"v":300},{"t":800,"v":80},{"t":1000,"v":20},{"t":1500,"v":0}
]
},
"config":{
 "view":{"stroke":null},
 "axis":{"labelFont":"Liberation Sans","labelFontSize":16.5,"labelColor":"#262626","titleFont":"Liberation Sans","titleFontSize":18.5,"titleFontWeight":"normal","titleColor":"#262626","domainColor":"#262626","gridColor":"#e6e6e6","ticks":false,"labelPadding":8,"titlePadding":4,"labelFlush":false,"labelOverlap":false},
 "axisX":{"labelPadding":9,"titlePadding":7},
 "legend":{"orient":"top-right","offset":10,"padding":4,"strokeColor":"#262626","fillColor":"white","symbolType":"M-1,0H3","symbolSize":324,"labelFont":"Liberation Serif","labelFontSize":18,"labelColor":"#000000","rowPadding":1,"labelOffset":22,"cornerRadius":0}
}
}
